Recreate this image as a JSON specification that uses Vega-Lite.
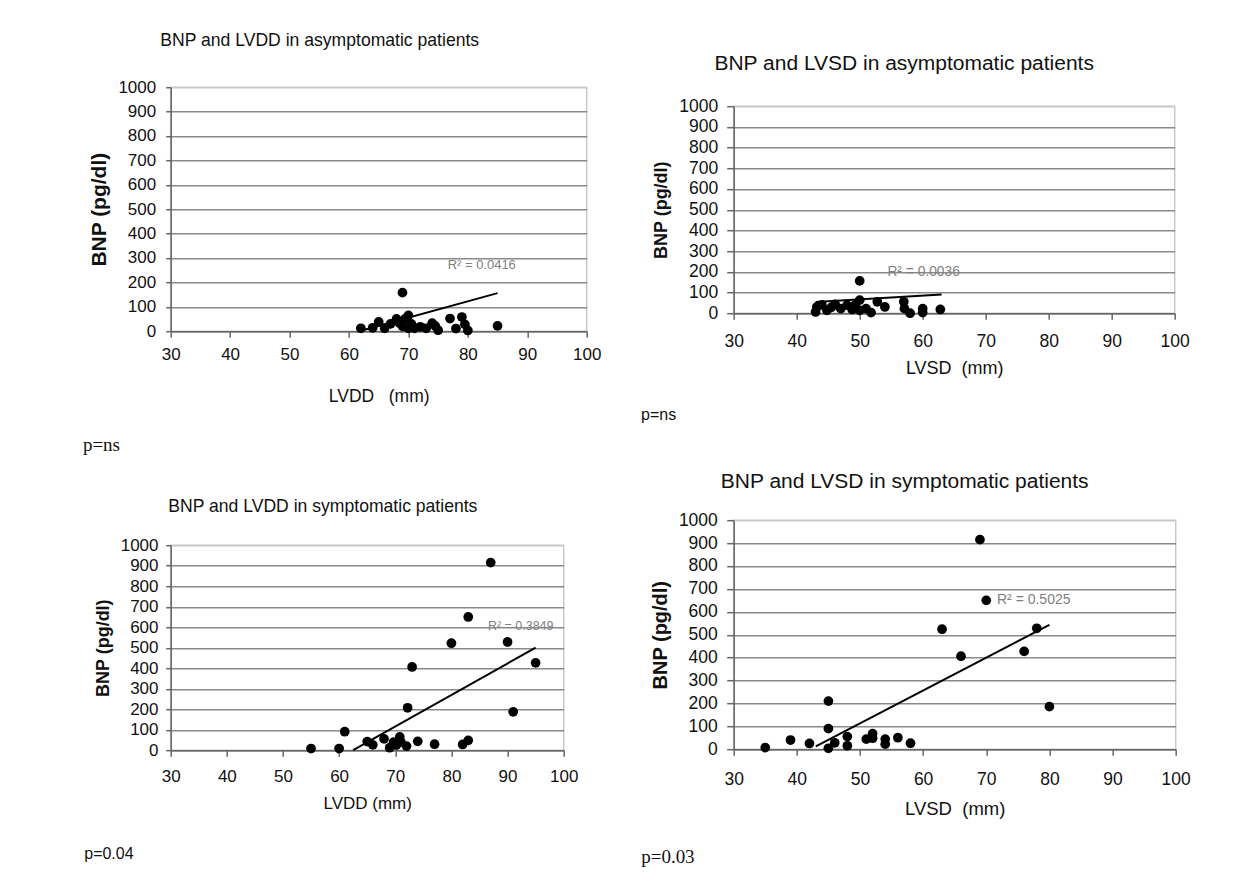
{
  "$schema": "https://vega.github.io/schema/vega-lite/v6.json",
  "background": "white",
  "padding": {"left": 81.7, "top": 0.2, "right": 5, "bottom": 5},
  "columns": 2,
  "align": {"row": "none", "column": "each"},
  "bounds": "full",
  "spacing": {"row": 29, "column": 38},
  "config": {
    "font": "Liberation Sans",
    "view": {"stroke": "#c8c8c8", "strokeWidth": 1.5},
    "axis": {"labelColor": "#111", "titleColor": "#111", "domainColor": "#666", "tickColor": "#666", "domainWidth": 1.5, "tickWidth": 1.5, "labelFont": "Liberation Sans", "titleFont": "Liberation Sans", "labelFlush": false, "labelOverlap": false, "labelBound": false, "format": "d"},
    "title": {"color": "#111", "fontWeight": "normal", "font": "Liberation Sans"}
  },
  "datasets": {
    "empty": [],
    "p1": [{"x":62,"y":12},{"x":64,"y":14},{"x":65,"y":38},{"x":66,"y":12},{"x":67,"y":30},{"x":68,"y":50},{"x":68.5,"y":33},{"x":69,"y":158},{"x":69,"y":20},{"x":69.5,"y":52},{"x":70,"y":65},{"x":70,"y":12},{"x":70.5,"y":30},{"x":71,"y":12},{"x":72,"y":18},{"x":73,"y":12},{"x":74,"y":33},{"x":74.5,"y":22},{"x":75,"y":4},{"x":77,"y":52},{"x":78,"y":11},{"x":79,"y":58},{"x":79.5,"y":28},{"x":80,"y":3},{"x":85,"y":22}],
    "t1": [{"x":62,"y":2},{"x":85,"y":156}],
    "r1": [{"x":76.6,"y":270,"label":"R² = 0.0416"}],
    "p2": [{"x":43,"y":6},{"x":43.2,"y":30},{"x":44,"y":40},{"x":44.8,"y":14},{"x":45.5,"y":28},{"x":46.1,"y":43},{"x":47,"y":22},{"x":48,"y":39},{"x":48.8,"y":18},{"x":49.3,"y":40},{"x":50,"y":156},{"x":50,"y":63},{"x":50,"y":14},{"x":51,"y":22},{"x":51.8,"y":3},{"x":52.8,"y":55},{"x":54,"y":30},{"x":57,"y":55},{"x":57.1,"y":22},{"x":58,"y":0},{"x":60,"y":22},{"x":60,"y":3},{"x":62.8,"y":18}],
    "t2": [{"x":43,"y":54},{"x":63,"y":90}],
    "r2": [{"x":54.4,"y":200,"label":"R² = 0.0036"}],
    "n2": [{"x":15.3,"y":-493,"label":"p=ns"}],
    "p3": [{"x":55,"y":8},{"x":60,"y":8},{"x":61,"y":90},{"x":65,"y":42},{"x":66,"y":26},{"x":68,"y":55},{"x":69,"y":12},{"x":69.7,"y":39},{"x":70.2,"y":25},{"x":70.8,"y":65},{"x":71,"y":40},{"x":72,"y":20},{"x":72.2,"y":207},{"x":73,"y":406},{"x":74,"y":43},{"x":77,"y":29},{"x":80,"y":522},{"x":82,"y":28},{"x":83,"y":48},{"x":83,"y":650},{"x":87,"y":915},{"x":90,"y":528},{"x":91,"y":187},{"x":95,"y":426}],
    "t3": [{"x":62.5,"y":0},{"x":95,"y":500}],
    "r3": [{"x":86.5,"y":605,"label":"R² = 0.3849"}],
    "h3": [{"x":57.1,"y":1185,"label":"BNP and LVDD in symptomatic patients"}],
    "n1": [{"x":14.36,"y":1489,"label":"p=ns"}],
    "n3": [{"x":14.6,"y":-507,"label":"p=0.04"}],
    "p4": [{"x":35,"y":7},{"x":39,"y":40},{"x":42,"y":25},{"x":45,"y":210},{"x":45,"y":90},{"x":45,"y":4},{"x":46,"y":28},{"x":48,"y":55},{"x":48,"y":15},{"x":51,"y":44},{"x":52,"y":68},{"x":52,"y":48},{"x":54,"y":44},{"x":54,"y":22},{"x":56,"y":50},{"x":58,"y":26},{"x":63,"y":524},{"x":66,"y":406},{"x":69,"y":915},{"x":70,"y":650},{"x":76,"y":427},{"x":78,"y":528},{"x":80,"y":186}],
    "t4": [{"x":43,"y":12},{"x":80,"y":543}],
    "r4": [{"x":71.7,"y":652,"label":"R² = 0.5025"}],
    "n4": [{"x":15.35,"y":-472,"label":"p=0.03"}]
  },
  "concat": [
    {"width": 1, "height": 1, "view": {"stroke": null, "fill": "white"}, "data": {"name": "empty"}, "mark": "text"},
    {"width": 1, "height": 1, "view": {"stroke": null, "fill": "white"}, "data": {"name": "empty"}, "mark": "text"},
    {
      "width": 416, "height": 244,
      "title": {"text": "BNP and LVDD in asymptomatic patients", "fontSize": 17.6, "anchor": "middle", "frame": "group", "dx": -59, "offset": 14.7, "baseline": "alphabetic"},
      "encoding": {
        "x": {"field": "x", "type": "quantitative", "scale": {"domain": [30, 100], "nice": false, "zero": false},
              "axis": {"title": "LVDD\u00a0\u00a0\u00a0(mm)", "values": [30,40,50,60,70,80,90,100], "grid": false, "tickSize": 6, "labelPadding": 9, "labelFontSize": 17, "titleFontSize": 17.5, "titleFontWeight": "normal", "titlePadding": 25.5}},
        "y": {"field": "y", "type": "quantitative", "scale": {"domain": [0, 1000], "nice": false},
              "axis": {"title": "BNP (pg/dl)", "values": [0,100,200,300,400,500,600,700,800,900,1000], "grid": true, "gridColor": {"condition": {"test": "datum.value === 1000", "value": "#c8c8c8"}, "value": "#8a8a8a"}, "gridWidth": 1.5, "tickSize": 5, "labelPadding": 10, "labelFontSize": 17, "titleFontSize": 21, "titleFontWeight": "bold", "titlePadding": 8}}
      },
      "layer": [
        {"data": {"name": "p1"}, "mark": {"type": "point", "filled": true, "color": "#000", "opacity": 1, "size": 95}},
        {"data": {"name": "t1"}, "mark": {"type": "line", "color": "#000", "strokeWidth": 2}, "encoding": {}},
        {"data": {"name": "r1"}, "mark": {"type": "text", "align": "left", "baseline": "middle", "fontSize": 13, "color": "#7f7f7f"}, "encoding": {"text": {"field": "label"}}}
      ]
    },
    {
      "width": 441, "height": 207,
      "title": {"text": ["", "BNP and LVSD in asymptomatic patients"], "lineHeight": 21.6, "fontSize": 21, "anchor": "middle", "frame": "group", "dx": -50, "offset": 6.4, "baseline": "alphabetic"},
      "encoding": {
        "x": {"field": "x", "type": "quantitative", "scale": {"domain": [30, 100], "nice": false, "zero": false},
              "axis": {"title": "LVSD\u00a0\u00a0(mm)", "values": [30,40,50,60,70,80,90,100], "grid": false, "tickSize": 6, "labelPadding": 13, "labelFontSize": 17.5, "titleFontSize": 18, "titleFontWeight": "normal", "titlePadding": 10}},
        "y": {"field": "y", "type": "quantitative", "scale": {"domain": [0, 1000], "nice": false},
              "axis": {"title": "BNP (pg/dl)", "values": [0,100,200,300,400,500,600,700,800,900,1000], "grid": true, "gridColor": {"condition": {"test": "datum.value === 1000", "value": "#c8c8c8"}, "value": "#8a8a8a"}, "gridWidth": 1.5, "tickSize": 7, "labelPadding": 9, "labelFontSize": 17.5, "titleFontSize": 18, "titleFontWeight": "bold", "titlePadding": 8.6}}
      },
      "layer": [
        {"data": {"name": "p2"}, "mark": {"type": "point", "filled": true, "color": "#000", "opacity": 1, "size": 95}},
        {"data": {"name": "t2"}, "mark": {"type": "line", "color": "#000", "strokeWidth": 2}, "encoding": {}},
        {"data": {"name": "r2"}, "mark": {"type": "text", "align": "left", "baseline": "middle", "fontSize": 13.8, "color": "#7f7f7f"}, "encoding": {"text": {"field": "label"}}},
        {"data": {"name": "n2"}, "mark": {"type": "text", "align": "left", "baseline": "middle", "fontSize": 16, "color": "#111"}, "encoding": {"text": {"field": "label"}}}
      ]
    },
    {
      "width": 393, "height": 205,
      "encoding": {
        "x": {"field": "x", "type": "quantitative", "scale": {"domain": [30, 100], "nice": false, "zero": false},
              "axis": {"title": "LVDD (mm)", "values": [30,40,50,60,70,80,90,100], "grid": false, "tickSize": 6, "labelPadding": 12.5, "labelFontSize": 17, "titleFontSize": 17, "titleFontWeight": "normal", "titlePadding": 10.5}},
        "y": {"field": "y", "type": "quantitative", "scale": {"domain": [0, 1000], "nice": false},
              "axis": {"title": "BNP (pg/dl)", "values": [0,100,200,300,400,500,600,700,800,900,1000], "grid": true, "gridColor": {"condition": {"test": "datum.value === 1000", "value": "#c8c8c8"}, "value": "#8a8a8a"}, "gridWidth": 1.5, "tickSize": 5, "labelPadding": 7.7, "labelFontSize": 17, "titleFontSize": 18, "titleFontWeight": "bold", "titlePadding": 7.5}}
      },
      "layer": [
        {"data": {"name": "p3"}, "mark": {"type": "point", "filled": true, "color": "#000", "opacity": 1, "size": 95}},
        {"data": {"name": "t3"}, "mark": {"type": "line", "color": "#000", "strokeWidth": 2}, "encoding": {}},
        {"data": {"name": "r3"}, "mark": {"type": "text", "align": "left", "baseline": "middle", "fontSize": 12.5, "color": "#7f7f7f"}, "encoding": {"text": {"field": "label"}}},
        {"data": {"name": "h3"}, "mark": {"type": "text", "align": "center", "baseline": "middle", "fontSize": 17.6, "color": "#111"}, "encoding": {"text": {"field": "label"}}},
        {"data": {"name": "n1"}, "mark": {"type": "text", "align": "left", "baseline": "middle", "fontSize": 19, "font": "Liberation Serif", "color": "#111"}, "encoding": {"text": {"field": "label"}}},
        {"data": {"name": "n3"}, "mark": {"type": "text", "align": "left", "baseline": "middle", "fontSize": 16, "color": "#111"}, "encoding": {"text": {"field": "label"}}}
      ]
    },
    {
      "width": 442, "height": 229,
      "title": {"text": ["", "BNP and LVSD in symptomatic patients"], "lineHeight": 15.8, "fontSize": 21, "anchor": "middle", "frame": "group", "dx": -50, "offset": 2.4, "baseline": "alphabetic"},
      "encoding": {
        "x": {"field": "x", "type": "quantitative", "scale": {"domain": [30, 100], "nice": false, "zero": false},
              "axis": {"title": "LVSD\u00a0\u00a0(mm)", "values": [30,40,50,60,70,80,90,100], "grid": false, "tickSize": 6, "labelPadding": 15, "labelFontSize": 17.5, "titleFontSize": 18.5, "titleFontWeight": "normal", "titlePadding": 12}},
        "y": {"field": "y", "type": "quantitative", "scale": {"domain": [0, 1000], "nice": false},
              "axis": {"title": "BNP (pg/dl)", "values": [0,100,200,300,400,500,600,700,800,900,1000], "grid": true, "gridColor": {"condition": {"test": "datum.value === 1000", "value": "#c8c8c8"}, "value": "#8a8a8a"}, "gridWidth": 1.5, "tickSize": 7, "labelPadding": 9.4, "labelFontSize": 17.5, "titleFontSize": 20, "titleFontWeight": "bold", "titlePadding": 8.3}}
      },
      "layer": [
        {"data": {"name": "p4"}, "mark": {"type": "point", "filled": true, "color": "#000", "opacity": 1, "size": 95}},
        {"data": {"name": "t4"}, "mark": {"type": "line", "color": "#000", "strokeWidth": 2}, "encoding": {}},
        {"data": {"name": "r4"}, "mark": {"type": "text", "align": "left", "baseline": "middle", "fontSize": 14, "color": "#7f7f7f"}, "encoding": {"text": {"field": "label"}}},
        {"data": {"name": "n4"}, "mark": {"type": "text", "align": "left", "baseline": "middle", "fontSize": 19, "font": "Liberation Serif", "color": "#111"}, "encoding": {"text": {"field": "label"}}}
      ]
    }
  ]
}
